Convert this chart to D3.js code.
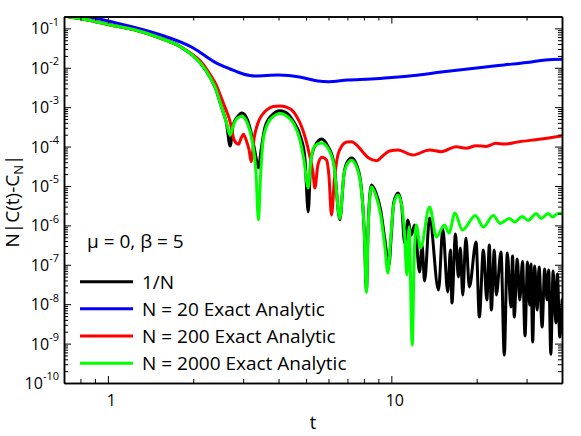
<!DOCTYPE html>
<html><head><meta charset="utf-8">
<script src="https://cdn.jsdelivr.net/npm/d3@7"></script>
<style>
body{margin:0;background:#fff}
svg{display:block}
text{font-family:"Open Sans",sans-serif;fill:#000}
</style>
</head><body>
<svg id="chart" width="581" height="436"></svg>
<script>
// ---- data (t, N|C(t)-C_N|) ----
const black = [[0.7,0.206],[0.85,0.163],[1.02,0.122],[1.25,0.091],[1.53,0.057],[1.8,0.0344],[2.0,0.0199],[2.12,0.0132],[2.3,0.0055],[2.41,0.00274],[2.49,0.00128],[2.55,7.55e-4],[2.615,4.2e-4],
[2.70,1.03e-4],[2.767,3.6e-4],[2.858,5.6e-4],[2.97,7.1e-4],[3.10,5.0e-4],[3.227,1.75e-4],[3.319,6.1e-5],[3.396,2.86e-5],[3.471,8.2e-5],[3.584,3.14e-4],[3.794,6.34e-4],[4.05,8.15e-4],[4.32,6.7e-4],[4.524,4.28e-4],[4.8,1.65e-4],[4.955,5.1e-5],[5.09,2.19e-6],[5.20,4.57e-5],[5.374,1.03e-4],[5.674,1.56e-4],[5.97,1.03e-4],[6.27,3.84e-5],[6.58,1.4e-6],[6.80,1.9e-5],[6.96,3.84e-5],[7.235,5.1e-5],[7.49,3.84e-5],[7.8,1.19e-5],[8.02,7.6e-7],[8.17,2.29e-8],[8.28,8.6e-7],[8.506,1.06e-5],[8.806,7.05e-6],[9.17,2.46e-6],[9.47,4.79e-7],[9.81,9.9e-8],[9.98,4.79e-7],[10.19,3.7e-6],[10.55,6.6e-6],[10.87,3.3e-6],[11.14,3.57e-7],[11.44,1.37e-6],[11.76,5.7e-7],[12.08,1.02e-6],[12.58,6.6e-8],[12.83,3.18e-7],[13.10,3.88e-8],[13.64,1.54e-6],[14.67,2.29e-8],[15.19,8.1e-7],[15.81,2.04e-8],[16.16,2.38e-7],[16.36,1.07e-8],[16.83,6.05e-7],[17.24,4.9e-8],[17.52,2.67e-7],[17.86,1.71e-8],[18.32,4.79e-7],[18.85,2.74e-8],[19.9,3.79e-7],[20.44,4.73e-9],[21.12,2.38e-7],[21.72,1.28e-8],[22.17,3.18e-7],[22.53,7.1e-9],[23.08,2.38e-7],[23.46,1.71e-8],[24.37,2.11e-7],[25.03,5.1e-10],[25.64,1.99e-7],[26.42,8.5e-9],[26.77,1.67e-7],[27.14,4.73e-9],[27.81,1.4e-7],[28.38,1.28e-8],[29.02,1.21e-7],[29.62,1.56e-9],[30.22,1.18e-7],[30.76,9.5e-9],[31.09,1.05e-7],[31.52,1.1e-9],[32.04,9.3e-8],[32.69,7.1e-9],[33.21,8.8e-8],[34.04,2.64e-9],[34.74,7.8e-8],[35.45,1.28e-8],[35.89,7.4e-8],[36.53,5.4e-10],[37.22,7.0e-8],[38.04,3.33e-9],[38.53,5.8e-8],[39.29,1.47e-9],[40.03,1.28e-8]];

const blue = [[0.7,0.26],[0.85,0.2],[1.0,0.154],[1.5,0.072],[2.0,0.0318],[2.4,0.0135],[2.7,0.0093],[3.0,0.00697],[3.3,0.0062],[4.0,0.00656],[4.8,0.00574],[5.5,0.00462],[6.0,0.00444],[7.0,0.0049],[8.5,0.0052],[10,0.00567],[12,0.00638],[15,0.0078],[20,0.0099],[25,0.0118],[30,0.0136],[35,0.0158],[40,0.0164]];

const red = [[0.7,0.206],[0.85,0.163],[1.02,0.122],[1.25,0.091],[1.53,0.057],[1.8,0.0346],[2.0,0.0211],[2.12,0.0149],[2.3,0.00656],[2.41,0.00366],[2.49,0.00204],[2.593,9.6e-4],[2.701,4.2e-4],[2.773,1.65e-4],[2.835,1.23e-4],[2.888,1.14e-4],[2.952,1.65e-4],[3.007,2.05e-4],[3.074,1.47e-4],[3.149,8.2e-5],[3.202,4.14e-5],[3.28,1.65e-4],[3.396,4.28e-4],[3.499,6.34e-4],[3.635,8.5e-4],[3.825,1.04e-3],[4.049,1.07e-3],[4.25,1.01e-3],[4.45,8.5e-4],[4.645,5.64e-4],[4.825,3.2e-4],[4.996,1.47e-4],[5.16,5.55e-5],[5.287,2.26e-5],[5.374,8.9e-6],[5.506,3.41e-5],[5.69,5.35e-5],[5.908,4.57e-5],[6.02,1.9e-5],[6.152,1.84e-6],[6.295,1.42e-5],[6.476,6.1e-5],[6.687,1.03e-4],[6.964,1.31e-4],[7.235,1.33e-4],[7.61,1.03e-4],[7.93,7.3e-5],[8.32,5.1e-5],[8.857,4.38e-5],[9.32,5.77e-5],[9.86,7.7e-5],[10.55,8.2e-5],[11.91,6.1e-5],[13.64,8.2e-5],[14.99,7.43e-5],[16.93,9.9e-5],[18.35,9.05e-5],[19.9,1.05e-4],[21.59,1.01e-4],[23.4,1.21e-4],[25.03,1.16e-4],[28.26,1.33e-4],[33.21,1.53e-4],[40,1.86e-4]];

const green = [[0.7,0.206],[0.85,0.163],[1.02,0.122],[1.25,0.091],[1.53,0.057],[1.8,0.0344],[2.0,0.0199],[2.12,0.0132],[2.3,0.0055],[2.41,0.00274],[2.49,0.00128],[2.55,7.55e-4],[2.615,4.2e-4],
[2.70,1.97e-4],[2.767,3.4e-4],[2.858,5.2e-4],[2.97,5.9e-4],[3.10,4.0e-4],[3.227,1.4e-4],[3.334,1.9e-5],[3.396,1.37e-6],[3.457,1.9e-5],[3.527,1.4e-4],[3.673,4.0e-4],[3.857,6.0e-4],[4.05,6.9e-4],[4.285,5.9e-4],[4.535,3.7e-4],[4.76,1.45e-4],[4.917,4.5e-5],[5.09,8.9e-6],[5.20,4.5e-5],[5.374,1.05e-4],[5.674,1.23e-4],[5.97,9.2e-5],[6.27,3.4e-5],[6.58,1.5e-6],[6.80,1.9e-5],[6.96,3.4e-5],[7.235,4.5e-5],[7.49,3.4e-5],[7.8,1.06e-5],[8.02,7.6e-7],[8.17,2.0e-8],[8.28,7.6e-7],[8.506,9.6e-6],[8.806,5.9e-6],[9.17,1.84e-6],[9.47,3.2e-7],[9.73,6.2e-8],[9.94,4.3e-7],[10.19,3.3e-6],[10.55,5.9e-6],[10.87,3.3e-6],[11.14,5.7e-7],[11.34,5.5e-8],[11.55,9.3e-7],[11.85,9.2e-10],[12.03,1.3e-7],[12.24,1.02e-6],[12.68,2.67e-7],[13.64,2.93e-6],[14.43,5.1e-7],[15.39,1.02e-6],[15.97,6.4e-7],[16.76,2.06e-6],[17.81,7.6e-7],[19.79,1.78e-6],[21.12,9.1e-7],[22.89,1.78e-6],[24.23,1.12e-6],[26.06,1.5e-6],[27.25,1.22e-6],[28.95,1.68e-6],[30.39,1.33e-6],[32.43,2.0e-6],[33.77,1.5e-6],[35.74,2.0e-6],[37.06,1.63e-6],[38.43,1.95e-6],[40,2.06e-6]];

const seriesNames = ["1/N","N = 20 Exact Analytic","N = 200 Exact Analytic","N = 2000 Exact Analytic"];
const seriesColors = ["#000000","#0000ff","#ff0000","#00ff00"];
const xMajorTicks = [1,10];
const xMinorTicks = [0.8,0.9,2,3,4,5,6,7,8,9,20,30];
const yMajorExponents = [-10,-9,-8,-7,-6,-5,-4,-3,-2,-1];
const annotation = "\u03bc = 0, \u03b2 = 5";

// ---- layout ----
const L = 64, R = 562, T = 16.5, B = 383;
const svg = d3.select("#chart");
svg.append("rect").attr("width",581).attr("height",436).attr("fill","#fff");

const x = d3.scaleLog().domain([0.7,40]).range([L,R]);
const y = d3.scaleLog().domain([1e-10,0.2]).range([B,T]);

const yMajor = yMajorExponents.map(e => Math.pow(10,e));
const yMinor = [];
yMajorExponents.slice(0,-1).forEach(e => { for (let k=2;k<=9;k++) yMinor.push(k*Math.pow(10,e)); });

svg.append("clipPath").attr("id","clip").append("rect")
  .attr("x",L).attr("y",T).attr("width",R-L).attr("height",B-T);

const line = d3.line().x(d=>x(d[0])).y(d=>y(d[1])).curve(d3.curveMonotoneX);
const plot = svg.append("g").attr("clip-path","url(#clip)");
[black, blue, red, green].forEach((s,i) => {
  plot.append("path").attr("d", line(s)).attr("fill","none")
    .attr("stroke", seriesColors[i]).attr("stroke-width",3)
    .attr("stroke-linejoin","round").attr("stroke-linecap","round");
});

// ---- axes ----
function styleAxis(g){
  g.select(".domain").attr("stroke","#000").attr("stroke-width",1.5);
  g.selectAll(".tick line").attr("stroke","#000").attr("stroke-width",1);
  g.attr("font-family",null).attr("font-size",null);
}
const gb = svg.append("g").attr("transform",`translate(0,${B})`);
gb.call(d3.axisBottom(x).tickValues(xMinorTicks).tickSize(-4).tickSizeOuter(0).tickFormat("")).call(styleAxis);
const gbM = svg.append("g").attr("transform",`translate(0,${B})`);
gbM.call(d3.axisBottom(x).tickValues(xMajorTicks).tickSize(-7).tickSizeOuter(0).tickPadding(12).tickFormat(d3.format("d"))).call(styleAxis);
gbM.selectAll(".tick text").attr("font-size",16).attr("dx",3).attr("fill","#000");

const gt = svg.append("g").attr("transform",`translate(0,${T})`);
gt.call(d3.axisTop(x).tickValues(xMinorTicks).tickSize(-4).tickSizeOuter(0).tickFormat("")).call(styleAxis);
svg.append("g").attr("transform",`translate(0,${T})`)
  .call(d3.axisTop(x).tickValues(xMajorTicks).tickSize(-7).tickSizeOuter(0).tickFormat("")).call(styleAxis);

svg.append("g").attr("transform",`translate(${L},0)`)
  .call(d3.axisLeft(y).tickValues(yMinor).tickSize(-4).tickSizeOuter(0).tickFormat("")).call(styleAxis);
const glM = svg.append("g").attr("transform",`translate(${L},0)`);
glM.call(d3.axisLeft(y).tickValues(yMajor).tickSize(-7).tickSizeOuter(0).tickFormat("")).call(styleAxis);
glM.selectAll(".tick text").remove();
glM.selectAll(".tick").each(function(d){
  const e = Math.round(Math.log10(d));
  const t = d3.select(this).append("text").attr("x",-5).attr("y",5.6)
    .attr("text-anchor","end").attr("font-size",16);
  t.append("tspan").text("10");
  t.append("tspan").attr("dy",-8.8).attr("font-size",11).text(String(e));
});

svg.append("g").attr("transform",`translate(${R},0)`)
  .call(d3.axisRight(y).tickValues(yMinor).tickSize(-4).tickSizeOuter(0).tickFormat("")).call(styleAxis);
svg.append("g").attr("transform",`translate(${R},0)`)
  .call(d3.axisRight(y).tickValues(yMajor).tickSize(-7).tickSizeOuter(0).tickFormat("")).call(styleAxis);

// ---- axis titles ----
svg.append("text").attr("x",(L+R)/2).attr("y",429).attr("text-anchor","middle")
  .attr("font-size",18).text("t");
const yl = svg.append("text").attr("transform","translate(19,201) rotate(-90)")
  .attr("text-anchor","middle").attr("font-size",19);
yl.append("tspan").text("N|C(t)-C");
yl.append("tspan").attr("font-size",13).attr("dy",4).text("N");
yl.append("tspan").attr("dy",-4).text("|");

// ---- legend ----
svg.append("text").attr("x",87).attr("y",248).attr("font-size",19).text(annotation);
const legY = [281.7,308.7,336,363.3];
seriesNames.forEach((n,i) => {
  svg.append("line").attr("x1",80).attr("x2",133).attr("y1",legY[i]).attr("y2",legY[i])
    .attr("stroke",seriesColors[i]).attr("stroke-width",3);
  svg.append("text").attr("x",142).attr("y",legY[i]+7).attr("font-size",19).text(n);
});
</script>
</body></html>
